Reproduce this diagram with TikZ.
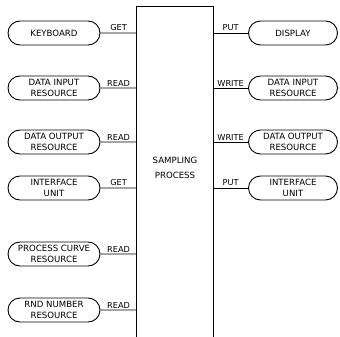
\documentclass[tikz,border=0pt]{standalone}
\usepackage{fontspec}
\setmainfont{DejaVu Sans}
\usetikzlibrary{shapes.misc}
\tikzset{
  resource/.style={draw, rounded rectangle, line width=0.9pt, align=center,
    minimum height=24pt, inner sep=1pt, font=\fontsize{8.6}{10.5}\selectfont},
  leftres/.style={resource, minimum width=94pt},
  rightres/.style={resource, minimum width=91pt},
  access/.style={midway, above, inner sep=1.5pt, font=\fontsize{8.2}{9}\selectfont},
  link/.style={line width=0.8pt}
}
\begin{document}
\begin{tikzpicture}[x=1pt,y=-1pt]
    \useasboundingbox (0,0) rectangle (340,337);
    % process block
    \node[minimum width=76pt, minimum height=330pt, inner sep=0pt] (proc) at (175,172) {};
    \draw[line width=1.1pt] (proc.south west) -- (proc.north west) -- (proc.north east) -- (proc.south east);
    \node[align=center, font=\fontsize{8.6}{15.5}\selectfont] (title) at (175,168) {SAMPLING\\PROCESS};
    % left resources
    \node[leftres] (kbd) at (54,33) {KEYBOARD};
    \node[leftres] (dinl) at (54,88) {DATA INPUT\\RESOURCE};
    \node[leftres] (doutl) at (54,142) {DATA OUTPUT\\RESOURCE};
    \node[leftres] (ifl) at (54,188) {INTERFACE\\UNIT};
    \node[leftres] (curve) at (54,254) {PROCESS CURVE\\RESOURCE};
    \node[leftres] (rnd) at (54,310) {RND NUMBER\\RESOURCE};
    % right resources
    \node[rightres] (disp) at (293,33) {DISPLAY};
    \node[rightres] (dinr) at (293,88) {DATA INPUT\\RESOURCE};
    \node[rightres] (doutr) at (293,142) {DATA OUTPUT\\RESOURCE};
    \node[rightres] (ifr) at (293,188) {INTERFACE\\UNIT};
    % links
    \draw[link] (kbd) -- (kbd -| proc.west) node[access] {GET};
    \draw[link] (dinl) -- (dinl -| proc.west) node[access] {READ};
    \draw[link] (doutl) -- (doutl -| proc.west) node[access] {READ};
    \draw[link] (ifl) -- (ifl -| proc.west) node[access] {GET};
    \draw[link] (curve) -- (curve -| proc.west) node[access] {READ};
    \draw[link] (rnd) -- (rnd -| proc.west) node[access] {READ};
    \draw[link] (disp -| proc.east) -- (disp) node[access] {PUT};
    \draw[link] (dinr -| proc.east) -- (dinr) node[access] {WRITE};
    \draw[link] (doutr -| proc.east) -- (doutr) node[access] {WRITE};
    \draw[link] (ifr -| proc.east) -- (ifr) node[access] {PUT};
\end{tikzpicture}
\end{document}
